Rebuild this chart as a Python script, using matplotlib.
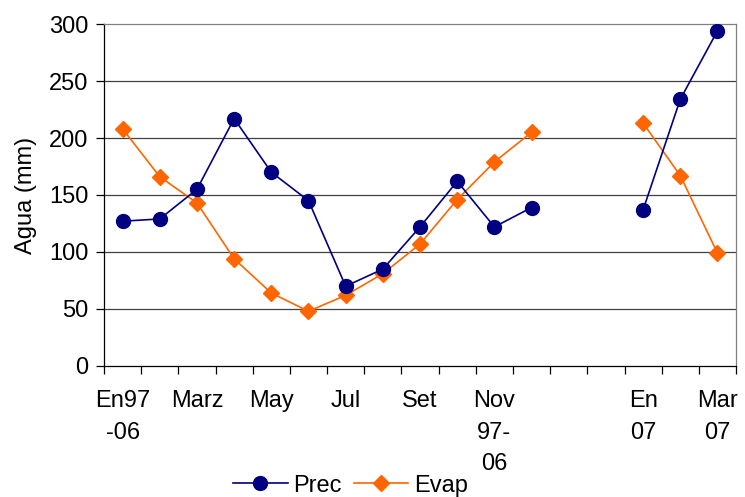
import numpy as np
import matplotlib.pyplot as plt

plt.rcParams['font.family'] = ['Liberation Sans', 'DejaVu Sans']

# categories (two empty months between Nov 97-06 and En 07)
labels = ['En97\n-06', '', 'Marz', '', 'May', '', 'Jul', '', 'Set', '',
          'Nov\n97-\n06', '', '', '', 'En\n07', '', 'Mar\n07']
prec = [127, 129, 155, 217, 170, 145, 70, 85, 122, 162, 122, 139,
        np.nan, np.nan, 137, 234, 294]
evap = [208, 166, 143, 94, 64, 48, 62, 81, 107, 146, 179, 205,
        np.nan, np.nan, 213, 167, 99]


def plot_graph():
    fig = plt.figure(figsize=(7.45, 4.97), dpi=100)
    ax = fig.add_axes([0.1396, 0.2636, 0.8484, 0.6881])
    x = np.arange(len(labels))

    for y in range(50, 300, 50):
        ax.axhline(y, color='#404040', lw=0.9, zorder=0)

    ax.plot(x, prec, color='#000080', lw=1.2, marker='o', ms=10, label='Prec', zorder=3)
    ax.plot(x, evap, color='#FF6600', lw=1.2, marker='D', ms=8, label='Evap', zorder=2)

    ax.set_xlim(-0.5, len(labels) - 0.5)
    ax.set_ylim(0, 300)
    ax.set_yticks(range(0, 301, 50))
    ax.tick_params(axis='y', labelsize=17, length=6, width=0.9, direction='out', pad=5)

    ax.set_xticks(np.arange(len(labels) + 1) - 0.5)
    ax.set_xticklabels([])
    ax.tick_params(axis='x', length=6, width=0.9, direction='out')
    for i, lab in enumerate(labels):
        ax.text(i, -21.5, lab, ha='center', va='top', fontsize=17, linespacing=1.55)

    ax.set_ylabel('Agua (mm)', fontsize=17, labelpad=9)

    ax.spines['left'].set_color('black')
    ax.spines['bottom'].set_color('black')
    ax.spines['right'].set_color('#808080')
    ax.spines['top'].set_color('#808080')
    for s in ax.spines.values():
        s.set_linewidth(0.9)

    ax.legend(loc='center', bbox_to_anchor=(0.39, -0.350),
              ncol=2, frameon=False, fontsize=17, handlelength=2.3,
              handletextpad=0.25, columnspacing=0.5, borderaxespad=0)

    fig.savefig('out.png', dpi=100)


def main():
    plot_graph()


if __name__ == "__main__":
    main()
